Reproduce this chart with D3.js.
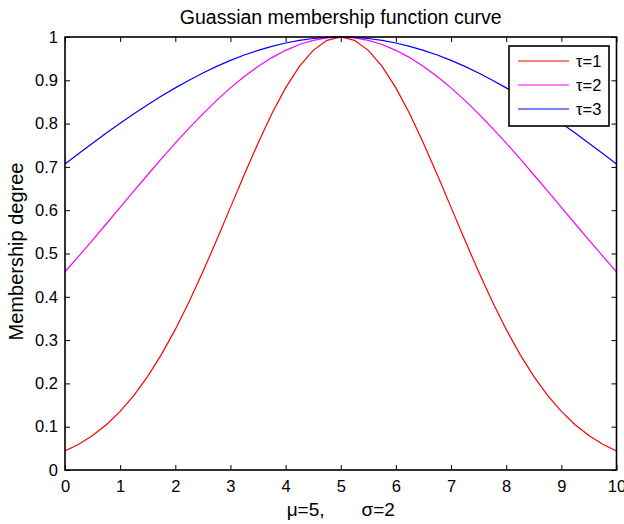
<!DOCTYPE html>
<html>
<head>
<meta charset="utf-8">
<script src="https://cdn.jsdelivr.net/npm/d3@7"></script>
<style>
  html, body { margin: 0; padding: 0; background: #fff; }
  svg { display: block; font-family: "Liberation Sans", Arial, Helvetica, sans-serif; }
</style>
</head>
<body>
<svg id="chart" width="624" height="524"></svg>
<script>
// ---- data ----
const xValues = [0,0.25,0.5,0.75,1,1.25,1.5,1.75,2,2.25,2.5,2.75,3,3.25,3.5,3.75,4,4.25,4.5,4.75,5,
                 5.25,5.5,5.75,6,6.25,6.5,6.75,7,7.25,7.5,7.75,8,8.25,8.5,8.75,9,9.25,9.5,9.75,10];
const tau1 = [0.0439,0.0596,0.0796,0.1046,0.1353,0.1724,0.2163,0.2671,0.3247,0.3886,0.4578,0.5311,0.6065,0.6819,0.7548,0.8226,0.8825,0.9321,0.9692,0.9922,1,
              0.9922,0.9692,0.9321,0.8825,0.8226,0.7548,0.6819,0.6065,0.5311,0.4578,0.3886,0.3247,0.2671,0.2163,0.1724,0.1353,0.1046,0.0796,0.0596,0.0439];
const tau2 = [0.4578,0.4941,0.5311,0.5687,0.6065,0.6444,0.6819,0.7189,0.7548,0.7895,0.8226,0.8537,0.8825,0.9087,0.9321,0.9524,0.9692,0.9826,0.9922,0.9980,1,
              0.9980,0.9922,0.9826,0.9692,0.9524,0.9321,0.9087,0.8825,0.8537,0.8226,0.7895,0.7548,0.7189,0.6819,0.6444,0.6065,0.5687,0.5311,0.4941,0.4578];
const tau3 = [0.7066,0.7310,0.7548,0.7781,0.8007,0.8226,0.8435,0.8636,0.8825,0.9003,0.9169,0.9321,0.9460,0.9584,0.9692,0.9785,0.9862,0.9922,0.9965,0.9991,1,
              0.9991,0.9965,0.9922,0.9862,0.9785,0.9692,0.9584,0.9460,0.9321,0.9169,0.9003,0.8825,0.8636,0.8435,0.8226,0.8007,0.7781,0.7548,0.7310,0.7066];
const seriesNames = ["τ=1", "τ=2", "τ=3"];
const seriesColors = ["#ff0000", "#ff00ff", "#0000ff"];
const xTicks = [0,1,2,3,4,5,6,7,8,9,10];
const yTicks = [0,0.1,0.2,0.3,0.4,0.5,0.6,0.7,0.8,0.9,1];
const titleText = "Guassian membership function curve";
const xLabelText = "μ=5,       σ=2";
const yLabelText = "Membership degree";

(function () {
// ---- layout ----
const svg = d3.select("#chart");
const pLeft = 65, pRight = 616.5, pTop = 37, pBottom = 470;
const x = d3.scaleLinear().domain([0, 10]).range([pLeft, pRight]);
const y = d3.scaleLinear().domain([0, 1]).range([pBottom, pTop]);

const series = [tau1, tau2, tau3].map((vals, i) => ({
  name: seriesNames[i], color: seriesColors[i],
  points: xValues.map((xv, j) => [xv, vals[j]])
}));

// curves
const line = d3.line().x(d => x(d[0])).y(d => y(d[1]));
svg.append("clipPath").attr("id", "plotclip").append("rect")
  .attr("x", pLeft).attr("y", pTop - 1).attr("width", pRight - pLeft).attr("height", pBottom - pTop + 1);
svg.append("g").attr("clip-path", "url(#plotclip)")
  .selectAll("path").data(series).join("path")
  .attr("d", d => line(d.points))
  .attr("fill", "none").attr("stroke", d => d.color).attr("stroke-width", 1.2);

// axes
const tickFont = "16.5px";
function styleAxis(g) {
  g.select(".domain").remove();
  g.selectAll(".tick line").attr("stroke", "#000").attr("stroke-width", 1);
  g.selectAll(".tick text").attr("fill", "#000").style("font-size", tickFont);
}
svg.append("g").attr("transform", `translate(0,${pBottom})`)
  .call(d3.axisBottom(x).tickValues(xTicks).tickFormat(d3.format("d")).tickSizeInner(-5).tickSizeOuter(0).tickPadding(10))
  .call(styleAxis);
svg.append("g").attr("transform", `translate(0,${pTop})`)
  .call(d3.axisTop(x).tickValues(xTicks).tickFormat("").tickSizeInner(-5).tickSizeOuter(0))
  .call(styleAxis);
svg.append("g").attr("transform", `translate(${pLeft},0)`)
  .call(d3.axisLeft(y).tickValues(yTicks).tickFormat(d => d3.format("~g")(d)).tickSizeInner(-5).tickSizeOuter(0).tickPadding(7))
  .call(styleAxis);
svg.append("g").attr("transform", `translate(${pRight},0)`)
  .call(d3.axisRight(y).tickValues(yTicks).tickFormat("").tickSizeInner(-5).tickSizeOuter(0))
  .call(styleAxis);

// box
svg.append("rect").attr("x", pLeft).attr("y", pTop).attr("width", pRight - pLeft).attr("height", pBottom - pTop)
  .attr("fill", "none").attr("stroke", "#000").attr("stroke-width", 1.6);

// title and labels
svg.append("text").attr("x", (pLeft + pRight) / 2).attr("y", 24).attr("text-anchor", "middle")
  .style("font-size", "19.5px").attr("fill", "#000").text(titleText);
svg.append("text").attr("x", (pLeft + pRight) / 2).attr("y", 516).attr("text-anchor", "middle")
  .style("font-size", "19px").style("white-space", "pre").attr("fill", "#000").text(xLabelText);
svg.append("text").attr("transform", `translate(23,${(pTop + pBottom) / 2 - 2}) rotate(-90)`).attr("text-anchor", "middle")
  .style("font-size", "20px").attr("fill", "#000").text(yLabelText);

// legend
const lg = svg.append("g");
lg.append("rect").attr("x", 509).attr("y", 46).attr("width", 100).attr("height", 80)
  .attr("fill", "#fff").attr("stroke", "#000").attr("stroke-width", 1.6);
const rows = lg.selectAll("g.row").data(series).join("g").attr("class", "row")
  .attr("transform", (d, i) => `translate(0,${61 + i * 24})`);
rows.append("line").attr("x1", 518).attr("x2", 569).attr("y1", 0).attr("y2", 0)
  .attr("stroke", d => d.color).attr("stroke-width", 1.2);
rows.append("text").attr("x", 576).attr("y", 6).style("font-size", "16.5px").attr("fill", "#000").text(d => d.name);
})();
</script>
</body>
</html>
